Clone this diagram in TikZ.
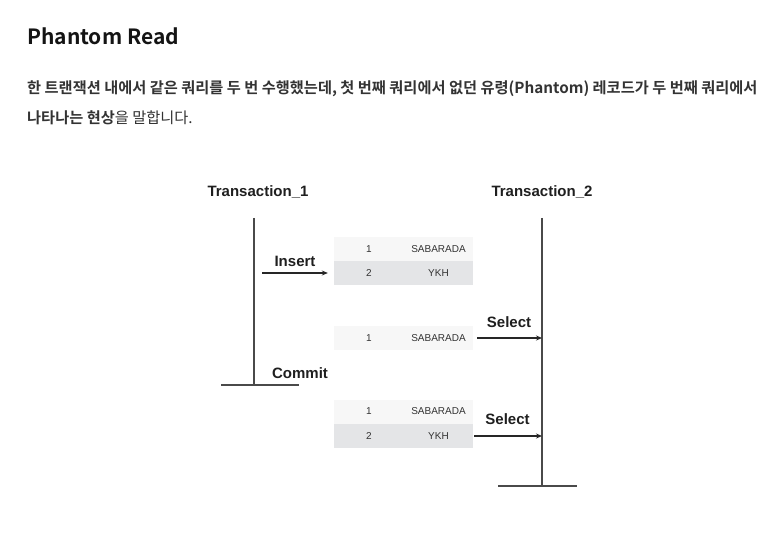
\documentclass[tikz,border=0pt]{standalone}
\usepackage{fontspec}
\setmainfont{Liberation Sans}
\newfontfamily\krfont{Noto Sans CJK KR}[BoldFont={Noto Sans CJK KR Bold}]
\usetikzlibrary{arrows.meta,positioning}

\definecolor{lifegray}{HTML}{4A4A4A}
\definecolor{rowgray}{HTML}{E4E5E7}
\definecolor{rowfaint}{HTML}{F7F7F7}
\definecolor{bodytext}{HTML}{333333}

\tikzset{
  lbl/.style={font=\fontsize{15}{18}\selectfont\bfseries, text=black!88, inner sep=0pt},
  cell/.style={font=\fontsize{10}{12}\selectfont, text=black!80, inner sep=0pt},
  tblrow/.style={minimum width=139pt, minimum height=24pt, inner sep=0pt, draw=none, fill=#1},
  life/.style={draw=lifegray, line width=1.8pt},
  msg/.style={draw=black!85, line width=1.1pt, -{Stealth[length=6pt,width=5pt]}},
}

\begin{document}
\begin{tikzpicture}[x=1pt,y=-1pt]
  \useasboundingbox[fill=white] (0,0) rectangle (782,545);

  % heading and text
  \node[anchor=base west, inner sep=0pt, font=\krfont\bfseries\fontsize{21}{24}\selectfont, text=black!92] (title) at (27,45) {Phantom Read};
  \node[anchor=base west, inner sep=0pt, font=\krfont\bfseries\fontsize{15.25}{18}\selectfont, text=bodytext] (line1) at (27,94)
    {한 트랜잭션 내에서 같은 쿼리를 두 번 수행했는데, 첫 번째 쿼리에서 없던 유령(Phantom) 레코드가 두 번째 쿼리에서};
  \node[anchor=base west, inner sep=0pt, font=\krfont\fontsize{15.25}{18}\selectfont, text=bodytext] (line2) at (27,124)
    {\textbf{나타나는 현상}을 말합니다.};

  % transactions
  \node[lbl, anchor=base] (t1) at (258,197) {Transaction\_1};
  \node[lbl, anchor=base] (t2) at (542,197) {Transaction\_2};
  \coordinate (t1top) at (254,218);
  \coordinate (t1end) at (254,385);
  \coordinate (t2top) at (542,218);
  \coordinate (t2end) at (542,486);
  \draw[life] (t1top) -- (t1end);
  \draw[life] (221,385) -- (299,385);
  \draw[life] (t2top) -- (t2end);
  \draw[life] (498,486) -- (577,486);

  % insert
  \node[tblrow=rowfaint] (ins1) at (403.5,249) {};
  \node[tblrow=rowgray] (ins2) at (403.5,273.5) {};
  \node[cell] at (369,249) {1};
  \node[cell] at (438.5,249) {SABARADA};
  \node[cell] at (369,273.5) {2};
  \node[cell] at (438.5,273.5) {YKH};
  \node[lbl, anchor=base] (insert) at (295,267) {Insert};
  \coordinate (insfrom) at (262,273);
  \draw[msg] (insfrom) -- ([xshift=-6pt]ins2.west |- insfrom);

  % first select
  \node[tblrow=rowfaint] (sel1) at (403.5,338) {};
  \node[cell] at (369,338) {1};
  \node[cell] at (438.5,338) {SABARADA};
  \node[lbl, anchor=base] (select1) at (509,327) {Select};
  \draw[msg] ([xshift=4pt]sel1.east) -- (t2top |- sel1.east);

  % commit
  \node[lbl, anchor=base] (commit) at (300,378) {Commit};

  % second select
  \node[tblrow=rowfaint] (sel2a) at (403.5,412) {};
  \node[tblrow=rowgray] (sel2b) at (403.5,436) {};
  \node[cell] at (369,411) {1};
  \node[cell] at (438.5,411) {SABARADA};
  \node[cell] at (369,436) {2};
  \node[cell] at (438.5,436) {YKH};
  \node[lbl, anchor=base] (select2) at (507.5,424) {Select};
  \draw[msg] ([xshift=1pt]sel2b.east) -- (t2top |- sel2b.east);
\end{tikzpicture}
\end{document}
